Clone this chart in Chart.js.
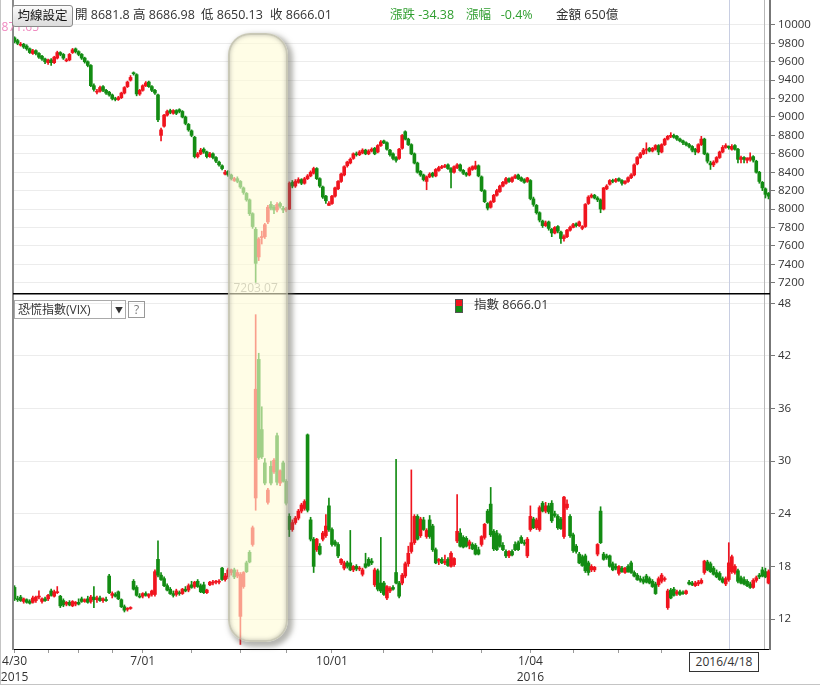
<!DOCTYPE html>
<html>
<head>
<meta charset="utf-8">
<script src="https://cdn.jsdelivr.net/npm/chart.js@4.4.1/dist/chart.umd.min.js"></script>
<style>
  html, body { margin: 0; padding: 0; background: #fff; }
  #wrap { position: relative; width: 820px; height: 686px; overflow: hidden;
          font-family: "Open Sans", "Noto Sans CJK TC", sans-serif; color: #333; }
  #wrap canvas { position: absolute; left: 0; }
  #top { top: 0; }
  #bot { top: 293px; }
  .abs { position: absolute; white-space: nowrap; }
  #btn { left: 12px; top: 5px; width: 59px; height: 20px; line-height: 20px; font-size: 12.5px;
         text-align: center; color: #111; border: 1px solid #8a8a8a; border-radius: 3px;
         background: linear-gradient(#fbfbfb, #dcdcdc); }
  .hd { top: 6px; font-size: 12.5px; line-height: 18px; }
  .up { color: #2f9e2f; }
  #sel { left: 14px; top: 300px; width: 110px; height: 17px; border: 1px solid #aaa; font-size: 12px; line-height: 17px; }
  #sel span { position: absolute; left: 3px; top: 0; }
  #sel i { position: absolute; left: 96px; top: 0; width: 14px; height: 17px; border-left: 1px solid #aaa;
           font-style: normal; font-size: 8px; text-align: center; line-height: 17px; }
  #q { left: 128px; top: 301px; width: 15px; height: 15px; border: 1px solid #999; font-size: 12px;
       line-height: 15px; text-align: center; color: #777; }
  #lg1 { left: 455px; top: 299px; width: 6px; height: 6px; background: #f0141e; border: 1px solid #555; border-bottom: 0; }
  #lg2 { left: 455px; top: 306px; width: 6px; height: 6px; background: #138c13; border: 1px solid #555; border-top: 0; }
  #lgt { left: 474px; top: 296px; font-size: 12.5px; line-height: 18px; }
  #date { left: 689px; top: 652px; width: 68px; height: 18px; border: 1px solid #333; background: #fff;
          font-size: 12px; line-height: 18px; text-align: center; }
  #hl { left: 228px; top: 33px; width: 56px; height: 605px; border-radius: 22px;
        background: rgba(255, 252, 214, 0.6); border: 2px solid rgba(165, 165, 150, 0.6);
        box-shadow: 3px 3px 5px 2px rgba(110, 110, 100, 0.5), inset 0 0 4px rgba(120, 120, 110, 0.45); }
  #frame { left: 0; top: 0; width: 819px; height: 684px; border-left: 1px solid #c4c4c4; border-bottom: 1px solid #c4c4c4; }
</style>
</head>
<body>
<div id="wrap">
  <canvas id="top" width="820" height="293"></canvas>
  <canvas id="bot" width="820" height="393"></canvas>
  <div id="frame" class="abs"></div>
  <div id="btn" class="abs">均線設定</div>
  <div class="abs hd" style="left:75px">開 8681.8</div>
  <div class="abs hd" style="left:133px">高 8686.98</div>
  <div class="abs hd" style="left:201px">低 8650.13</div>
  <div class="abs hd" style="left:270px">收 8666.01</div>
  <div class="abs hd up" style="left:390px">漲跌 -34.38</div>
  <div class="abs hd up" style="left:466px">漲幅&nbsp;&nbsp;&nbsp;-0.4%</div>
  <div class="abs hd" style="left:556px">金額 650億</div>
  <div id="sel" class="abs"><span>恐慌指數(VIX)</span><i>&#9660;</i></div>
  <div id="q" class="abs">?</div>
  <div id="lg1" class="abs"></div>
  <div id="lg2" class="abs"></div>
  <div id="lgt" class="abs">指數 8666.01</div>
  <div id="date" class="abs">2016/4/18</div>
  <div id="hl" class="abs"></div>
</div>
<script>
/* TAIEX daily candles, 2015/4/30 .. 2016/5 */
var twOpen = [
  9860, 9830, 9780, 9790, 9770, 9740, 9690, 9720, 9690, 9660,
  9630, 9590, 9620, 9590, 9640, 9700, 9680, 9610, 9620, 9700,
  9740, 9710, 9680, 9640, 9600, 9560, 9340, 9270, 9280, 9330,
  9290, 9270, 9240, 9200, 9190, 9210, 9260, 9330, 9400, 9480,
  9460, 9250, 9290, 9340, 9380, 9330, 9290, 9240, 8800, 8900,
  9020, 9070, 9040, 9070, 9080, 9060, 9000, 8920, 8850, 8780,
  8570, 8600, 8650, 8620, 8570, 8600, 8560, 8510, 8470, 8380,
  8410, 8370, 8310, 8330, 8300, 8230, 8170, 8100, 7950, 7780,
  7480, 7690, 7700, 7860, 8050, 8020, 7990, 8060, 8010, 7990,
  8000, 8290, 8250, 8290, 8320, 8280, 8330, 8360, 8390, 8440,
  8330, 8240, 8140, 8040, 8060, 8140, 8220, 8300, 8370, 8470,
  8500, 8550, 8600, 8590, 8610, 8640, 8600, 8630, 8660, 8620,
  8690, 8740, 8720, 8640, 8600, 8560, 8550, 8660, 8840, 8760,
  8700, 8600, 8500, 8410, 8370, 8300, 8350, 8390, 8360, 8420,
  8450, 8460, 8480, 8440, 8400, 8450, 8480, 8420, 8390, 8370,
  8430, 8440, 8470, 8350, 8200, 8060, 8020, 8080, 8150, 8190,
  8250, 8280, 8330, 8300, 8340, 8370, 8340, 8320, 8300, 8310,
  8110, 8040, 7960, 7870, 7820, 7860, 7780, 7740, 7810, 7750,
  7680, 7700, 7770, 7800, 7840, 7820, 7790, 7810, 8060, 8130,
  8150, 8120, 8100, 8000, 8220, 8270, 8310, 8300, 8330, 8310,
  8280, 8300, 8340, 8370, 8490, 8560, 8600, 8640, 8660, 8630,
  8650, 8690, 8620, 8700, 8760, 8790, 8800, 8790, 8760, 8740,
  8720, 8700, 8680, 8650, 8620, 8700, 8760, 8600, 8500, 8480,
  8510, 8560, 8620, 8670, 8681.8, 8650, 8690, 8650, 8540, 8560,
  8530, 8540, 8570, 8520, 8400, 8290, 8220, 8170
];
var twHigh = [
  9871.65, 9845, 9810, 9800, 9785, 9750, 9735, 9730, 9700, 9670,
  9640, 9630, 9635, 9660, 9715, 9710, 9690, 9635, 9690, 9745,
  9750, 9720, 9690, 9650, 9610, 9570, 9360, 9300, 9335, 9340,
  9300, 9280, 9250, 9215, 9225, 9270, 9330, 9390, 9450, 9490,
  9470, 9300, 9350, 9385, 9390, 9340, 9300, 9250, 8880, 9030,
  9075, 9085, 9080, 9080, 9090, 9070, 9010, 8930, 8860, 8790,
  8615, 8660, 8665, 8630, 8615, 8610, 8570, 8520, 8480, 8420,
  8420, 8380, 8345, 8350, 8310, 8240, 8180, 8110, 7960, 7800,
  7690, 7760, 7845, 8040, 8080, 8040, 8070, 8075, 8030, 8020,
  8295, 8310, 8320, 8340, 8330, 8345, 8375, 8415, 8455, 8450,
  8340, 8250, 8150, 8080, 8150, 8240, 8310, 8390, 8470, 8520,
  8555, 8610, 8620, 8635, 8655, 8650, 8645, 8665, 8670, 8700,
  8745, 8750, 8730, 8650, 8610, 8570, 8660, 8810, 8850, 8770,
  8710, 8610, 8510, 8420, 8380, 8360, 8395, 8400, 8440, 8465,
  8475, 8485, 8490, 8450, 8470, 8495, 8490, 8430, 8400, 8455,
  8470, 8520, 8480, 8360, 8210, 8070, 8090, 8160, 8215, 8260,
  8300, 8345, 8340, 8350, 8375, 8380, 8350, 8330, 8345, 8320,
  8130, 8050, 7970, 7880, 7870, 7870, 7790, 7810, 7820, 7760,
  7720, 7780, 7815, 7845, 7850, 7870, 7820, 8060, 8145, 8165,
  8160, 8135, 8110, 8235, 8265, 8320, 8325, 8335, 8340, 8320,
  8310, 8350, 8385, 8490, 8570, 8615, 8660, 8720, 8670, 8670,
  8700, 8700, 8710, 8770, 8800, 8830, 8815, 8800, 8770, 8750,
  8730, 8715, 8690, 8660, 8710, 8790, 8770, 8610, 8520, 8525,
  8570, 8630, 8690, 8710, 8686.98, 8700, 8700, 8660, 8575, 8570,
  8560, 8610, 8580, 8530, 8410, 8300, 8230, 8180
];
var twLow = [
  9805, 9785, 9770, 9745, 9725, 9690, 9680, 9675, 9635, 9615,
  9580, 9570, 9560, 9580, 9630, 9665, 9625, 9600, 9610, 9690,
  9695, 9665, 9625, 9585, 9545, 9330, 9280, 9250, 9270, 9275,
  9245, 9225, 9185, 9175, 9180, 9200, 9250, 9320, 9390, 9455,
  9230, 9235, 9280, 9330, 9320, 9275, 9245, 8950, 8740, 8890,
  9010, 9035, 9030, 9025, 9045, 8990, 8915, 8845, 8785, 8555,
  8555, 8590, 8605, 8555, 8560, 8545, 8505, 8465, 8425, 8370,
  8355, 8315, 8300, 8285, 8225, 8160, 8085, 7930, 7790, 7203.07,
  7440, 7620, 7680, 7840, 7990, 7950, 7970, 8010, 7960, 7970,
  7995, 8230, 8235, 8280, 8265, 8270, 8320, 8350, 8380, 8320,
  8235, 8115, 8060, 8040, 8050, 8130, 8210, 8290, 8360, 8455,
  8490, 8540, 8575, 8580, 8600, 8590, 8590, 8620, 8590, 8610,
  8680, 8710, 8640, 8575, 8535, 8510, 8540, 8650, 8750, 8690,
  8590, 8490, 8390, 8355, 8305, 8210, 8340, 8345, 8350, 8410,
  8440, 8450, 8430, 8230, 8390, 8440, 8410, 8375, 8355, 8360,
  8420, 8430, 8350, 8190, 8070, 7990, 8010, 8070, 8140, 8180,
  8240, 8270, 8290, 8290, 8330, 8320, 8300, 8280, 8290, 8100,
  8030, 7945, 7860, 7800, 7810, 7770, 7700, 7730, 7740, 7627,
  7650, 7690, 7760, 7795, 7805, 7810, 7775, 7800, 8050, 8120,
  8110, 8080, 7960, 7990, 8210, 8260, 8285, 8290, 8300, 8260,
  8270, 8290, 8330, 8360, 8480, 8550, 8590, 8600, 8620, 8620,
  8640, 8590, 8610, 8690, 8750, 8775, 8770, 8745, 8730, 8700,
  8685, 8665, 8620, 8590, 8610, 8690, 8590, 8500, 8430, 8460,
  8500, 8550, 8610, 8660, 8650.13, 8640, 8640, 8500, 8500, 8500,
  8500, 8520, 8510, 8390, 8280, 8200, 8120, 8110
];
var twClose = [
  9820, 9800, 9790, 9760, 9740, 9700, 9720, 9690, 9650, 9630,
  9600, 9620, 9590, 9650, 9700, 9680, 9640, 9620, 9680, 9730,
  9710, 9680, 9640, 9600, 9560, 9340, 9300, 9280, 9320, 9290,
  9260, 9240, 9200, 9190, 9210, 9260, 9320, 9380, 9430, 9470,
  9250, 9290, 9340, 9370, 9330, 9290, 9260, 8970, 8860, 9020,
  9060, 9050, 9070, 9040, 9060, 9000, 8930, 8860, 8800, 8570,
  8600, 8640, 8620, 8570, 8600, 8560, 8520, 8480, 8440, 8400,
  8370, 8330, 8330, 8300, 8240, 8180, 8100, 7950, 7810, 7410,
  7675, 7700, 7830, 8020, 8010, 7990, 8050, 8030, 7990, 8000,
  8280, 8250, 8300, 8320, 8280, 8330, 8360, 8400, 8440, 8330,
  8250, 8130, 8090, 8060, 8140, 8230, 8300, 8380, 8460, 8510,
  8540, 8600, 8590, 8620, 8640, 8600, 8630, 8650, 8600, 8690,
  8730, 8720, 8650, 8590, 8550, 8530, 8650, 8800, 8760, 8700,
  8600, 8500, 8400, 8370, 8320, 8350, 8380, 8360, 8430, 8450,
  8460, 8470, 8440, 8400, 8460, 8480, 8420, 8390, 8370, 8440,
  8460, 8470, 8360, 8200, 8080, 8010, 8080, 8150, 8200, 8250,
  8290, 8330, 8300, 8340, 8360, 8330, 8310, 8290, 8338, 8114,
  8050, 7960, 7880, 7820, 7850, 7790, 7740, 7800, 7760, 7680,
  7700, 7770, 7800, 7830, 7820, 7860, 7810, 8050, 8130, 8150,
  8120, 8100, 8000, 8230, 8250, 8310, 8300, 8320, 8310, 8280,
  8300, 8340, 8370, 8480, 8560, 8600, 8640, 8650, 8630, 8660,
  8690, 8620, 8700, 8760, 8790, 8800, 8780, 8760, 8740, 8720,
  8700, 8680, 8640, 8620, 8700, 8760, 8600, 8520, 8480, 8510,
  8560, 8620, 8670, 8690, 8666.01, 8680, 8650, 8540, 8560, 8540,
  8550, 8560, 8530, 8400, 8300, 8230, 8160, 8140
];

/* Taiwan VIX daily candles, same days */
var vixOpen = [
  15.6, 14.3, 14.5, 14.0, 14.2, 14.0, 13.9, 14.1, 14.5, 14.0,
  14.3, 14.3, 15.2, 14.6, 15.0, 14.6, 14.1, 13.7, 13.9, 13.5,
  13.7, 13.9, 14.3, 14.0, 14.3, 14.0, 14.5, 14.2, 14.4, 14.1,
  14.2, 16.9, 14.7, 14.8, 15.1, 14.2, 13.4, 13.1, 13.2, 16.3,
  15.6, 14.6, 14.6, 14.9, 14.6, 14.8, 14.8, 18.8, 17.0, 16.6,
  15.8, 15.4, 14.9, 14.8, 15.0, 14.9, 15.4, 15.3, 15.9, 15.7,
  16.3, 15.8, 15.9, 15.0, 15.9, 16.1, 16.2, 16.2, 17.8, 16.5,
  16.8, 17.3, 17.6, 16.9, 12.3, 15.7, 18.4, 19.6, 20.5, 25.8,
  41.6, 33.6, 29.8, 25.3, 29.4, 28.8, 32.9, 27.5, 29.8, 27.7,
  23.7, 22.2, 23.0, 23.5, 24.3, 24.6, 33.0, 23.3, 21.1, 19.9,
  20.3, 21.1, 21.5, 24.9, 22.2, 20.8, 20.5, 18.4, 17.8, 18.4,
  18.4, 17.6, 18.0, 17.7, 17.1, 18.3, 18.8, 18.6, 15.9, 17.5,
  16.1, 16.1, 14.4, 15.2, 15.6, 17.3, 16.1, 16.1, 16.9, 18.3,
  19.7, 20.7, 23.7, 21.5, 23.3, 21.4, 23.3, 22.6, 19.9, 18.6,
  18.8, 18.4, 18.8, 18.0, 18.2, 20.9, 21.8, 21.3, 21.2, 20.4,
  20.5, 20.4, 19.9, 20.5, 21.3, 24.3, 25.1, 22.0, 21.8, 21.5,
  20.4, 19.7, 19.2, 19.7, 20.5, 20.7, 21.3, 20.7, 19.2, 22.2,
  23.4, 22.4, 22.2, 25.2, 24.3, 24.9, 25.2, 24.0, 23.7, 23.4,
  21.4, 24.7, 23.7, 21.6, 20.3, 19.4, 19.1, 19.2, 18.4, 17.6,
  17.6, 19.4, 24.3, 19.4, 19.2, 19.2, 18.3, 18.0, 17.2, 17.8,
  17.3, 18.0, 18.4, 17.3, 17.0, 16.6, 16.5, 16.9, 16.6, 16.3,
  16.0, 15.9, 16.3, 16.5, 13.3, 15.3, 15.4, 14.9, 15.1, 15.0,
  14.9, 16.2, 16.1, 15.8, 16.0, 16.1, 17.3, 18.5, 18.3, 17.8,
  17.3, 17.2, 16.6, 16.0, 16.5, 17.4, 17.3, 17.5, 16.7, 16.5,
  16.3, 16.0, 15.6, 16.4, 17.0, 17.6, 17.4, 16.1
];
var vixHigh = [
  15.8, 14.6, 14.7, 14.4, 14.3, 14.2, 14.6, 14.6, 15.2, 14.4,
  14.5, 14.8, 15.4, 15.3, 15.7, 14.7, 14.3, 14.0, 14.1, 14.1,
  14.0, 14.3, 14.5, 14.3, 14.6, 14.7, 15.7, 14.6, 14.6, 14.4,
  14.5, 17.1, 15.1, 15.0, 15.2, 14.3, 13.6, 13.3, 13.4, 16.5,
  15.8, 14.9, 15.0, 15.1, 14.9, 15.3, 17.6, 20.9, 17.3, 16.8,
  16.0, 15.6, 15.2, 15.4, 15.2, 15.5, 15.7, 16.0, 16.3, 16.3,
  16.5, 16.0, 16.2, 15.4, 16.3, 16.4, 16.4, 16.5, 17.9, 17.2,
  17.8, 17.7, 17.8, 17.6, 17.3, 17.4, 18.6, 19.8, 22.6, 46.7,
  42.3, 36.2, 30.3, 26.9, 30.0, 30.3, 33.2, 29.0, 30.0, 27.9,
  24.0, 23.3, 23.7, 24.5, 25.2, 25.6, 33.1, 23.6, 21.3, 21.2,
  20.6, 22.0, 23.9, 25.8, 22.4, 21.0, 20.7, 18.9, 18.6, 18.6,
  22.1, 18.1, 18.2, 18.0, 17.8, 19.5, 19.0, 18.9, 17.8, 17.7,
  21.3, 16.3, 15.8, 15.7, 15.8, 30.2, 16.3, 17.2, 18.5, 20.3,
  29.0, 23.9, 23.9, 23.6, 23.6, 22.3, 23.8, 22.8, 20.1, 18.9,
  19.0, 19.3, 19.0, 19.7, 19.0, 26.2, 22.3, 21.5, 21.4, 21.0,
  20.7, 20.6, 20.2, 21.5, 22.9, 24.5, 27.0, 22.2, 22.1, 21.7,
  20.7, 19.9, 19.8, 19.9, 20.8, 20.9, 21.5, 21.0, 21.3, 24.9,
  23.6, 23.5, 24.9, 25.4, 25.3, 25.2, 25.5, 24.3, 23.9, 23.6,
  26.0, 25.6, 23.9, 21.8, 20.5, 19.6, 19.3, 19.4, 18.6, 18.2,
  18.0, 20.6, 24.8, 19.6, 19.4, 19.3, 18.5, 18.3, 18.1, 18.0,
  17.9, 18.2, 18.6, 17.5, 17.2, 16.9, 16.8, 17.1, 16.8, 16.5,
  16.2, 16.8, 17.2, 16.8, 15.4, 15.5, 15.6, 15.3, 15.3, 15.2,
  15.3, 16.4, 16.3, 16.3, 16.4, 16.6, 18.7, 18.7, 18.5, 18.0,
  17.6, 17.4, 16.8, 16.8, 20.7, 19.3, 18.2, 17.7, 16.9, 16.8,
  16.5, 16.2, 16.6, 16.9, 17.2, 17.9, 17.8, 17.6
];
var vixLow = [
  14.1, 14.0, 14.0, 13.8, 13.8, 13.7, 13.8, 13.9, 14.3, 13.8,
  14.0, 14.1, 14.6, 14.5, 14.9, 13.3, 13.4, 13.5, 13.5, 13.4,
  13.5, 13.6, 13.9, 13.9, 13.8, 13.8, 13.3, 13.9, 14.0, 13.9,
  14.0, 14.9, 14.4, 14.5, 14.2, 13.3, 12.8, 12.9, 13.1, 15.3,
  14.6, 14.4, 14.4, 14.6, 14.4, 14.6, 14.6, 16.8, 16.4, 15.7,
  15.2, 14.8, 14.5, 14.6, 14.7, 14.8, 15.1, 15.1, 15.5, 15.5,
  15.6, 15.0, 14.9, 14.9, 15.8, 15.9, 16.0, 16.0, 16.4, 16.3,
  16.6, 17.0, 16.6, 16.7, 9.1, 15.5, 17.3, 18.4, 20.3, 24.4,
  30.2, 30.3, 27.3, 25.1, 27.3, 28.6, 27.3, 27.2, 27.6, 25.0,
  21.4, 22.0, 22.8, 23.3, 24.1, 24.4, 24.2, 20.9, 17.3, 19.7,
  19.3, 20.9, 21.3, 22.0, 20.3, 20.3, 19.0, 18.2, 17.6, 17.8,
  17.5, 17.4, 17.5, 17.5, 16.9, 17.8, 18.0, 18.2, 15.7, 15.2,
  15.0, 14.7, 14.2, 15.0, 15.3, 16.0, 14.4, 15.9, 16.7, 18.0,
  19.5, 20.5, 21.0, 21.3, 22.1, 21.2, 21.2, 19.7, 18.3, 18.2,
  18.3, 18.2, 18.0, 17.9, 18.0, 20.7, 20.2, 20.1, 20.2, 20.0,
  19.9, 19.3, 19.3, 20.3, 21.1, 22.9, 21.4, 19.8, 19.8, 20.2,
  19.8, 19.0, 19.0, 19.2, 19.8, 19.8, 20.6, 20.4, 19.0, 22.0,
  22.3, 22.2, 22.0, 24.2, 24.1, 24.0, 23.0, 23.6, 22.2, 22.2,
  21.2, 24.5, 21.3, 19.6, 19.5, 18.3, 18.0, 17.3, 17.0, 17.4,
  17.4, 19.2, 20.6, 18.7, 18.8, 17.9, 17.5, 17.6, 17.0, 17.3,
  17.2, 17.3, 17.2, 16.8, 16.4, 16.2, 16.0, 16.1, 16.0, 15.6,
  14.8, 15.7, 16.1, 16.3, 13.1, 14.3, 14.6, 14.7, 14.7, 14.8,
  14.8, 15.9, 15.8, 15.7, 15.8, 16.0, 17.1, 17.5, 17.3, 17.0,
  16.7, 16.4, 16.1, 15.8, 16.3, 17.2, 17.1, 16.1, 16.0, 15.9,
  15.7, 15.5, 15.5, 16.2, 16.6, 16.8, 16.7, 16.0
];
var vixClose = [
  14.3, 14.2, 14.1, 14.3, 13.9, 13.8, 14.4, 14.5, 14.6, 14.3,
  14.1, 14.7, 14.7, 15.1, 15.1, 13.5, 13.6, 13.9, 13.6, 14.0,
  13.9, 13.7, 14.0, 14.2, 13.9, 14.5, 14.2, 14.4, 14.1, 14.3,
  14.1, 15.0, 14.9, 14.6, 14.3, 13.4, 13.0, 13.2, 13.3, 15.4,
  14.7, 14.5, 14.9, 14.7, 14.8, 15.2, 17.4, 17.0, 16.5, 15.8,
  15.3, 14.9, 14.7, 15.2, 14.9, 15.4, 15.2, 15.8, 15.6, 16.2,
  15.7, 15.1, 15.0, 15.3, 16.2, 16.2, 16.3, 16.3, 16.5, 16.9,
  17.6, 17.6, 16.8, 17.3, 17.1, 17.3, 17.4, 18.5, 22.4, 38.2,
  30.4, 30.5, 27.5, 26.7, 27.5, 30.1, 27.6, 28.9, 27.7, 25.2,
  22.2, 23.0, 23.5, 24.3, 25.0, 25.4, 24.4, 21.1, 18.0, 21.1,
  19.4, 21.8, 22.6, 22.2, 20.5, 20.5, 19.2, 18.8, 18.4, 18.0,
  17.6, 18.0, 17.7, 17.8, 17.6, 17.9, 18.1, 18.4, 17.6, 15.4,
  15.2, 14.8, 15.7, 15.5, 15.4, 16.1, 14.6, 17.0, 18.3, 19.5,
  20.7, 23.7, 21.1, 23.4, 22.2, 22.1, 21.4, 19.9, 18.4, 18.8,
  18.4, 18.6, 18.1, 19.5, 18.9, 22.0, 20.3, 20.2, 20.3, 20.8,
  20.0, 19.4, 19.4, 21.4, 22.8, 23.0, 21.6, 20.0, 19.9, 20.3,
  19.9, 19.2, 19.7, 19.3, 19.9, 19.9, 20.7, 20.6, 21.1, 23.7,
  22.4, 23.3, 24.7, 24.3, 24.9, 24.2, 23.2, 23.8, 22.4, 22.3,
  25.9, 25.1, 21.5, 19.8, 19.7, 18.4, 18.1, 17.5, 17.3, 18.0,
  17.9, 20.5, 20.7, 18.8, 19.0, 18.0, 17.6, 17.8, 18.0, 17.4,
  17.8, 17.4, 17.3, 16.9, 16.5, 16.4, 16.2, 16.2, 16.1, 15.7,
  14.9, 16.6, 17.0, 16.6, 15.2, 14.4, 14.7, 15.1, 14.8, 14.9,
  15.2, 16.0, 15.9, 16.1, 16.2, 16.4, 18.6, 17.6, 17.4, 17.1,
  16.8, 16.5, 16.2, 16.6, 18.4, 19.1, 18.0, 16.3, 16.1, 16.0,
  15.8, 15.6, 16.4, 16.7, 16.8, 16.9, 16.8, 17.4
];

// axis ticks
var twTicks = [7200, 7400, 7600, 7800, 8000, 8200, 8400, 8600, 8800, 9000, 9200, 9400, 9600, 9800, 10000];
var vixTicks = [12, 18, 24, 30, 36, 42, 48];
var dateTickIdx = [0, 42, 104, 169];
var dateTickText = [['4/30', '2015'], '7/01', '10/01', ['1/04', '2016']];
var minorTickIdx = [0, 11, 21, 32, 42, 58, 74, 89, 104, 121, 137, 153, 169, 183, 198, 212];
var crossIdx = 234;   // 2016/4/18
var maxIdx = 0, minIdx = 79;

var RED = '#f0141e';
var GREEN = '#138c13';
var FONT = '"Open Sans", "Noto Sans CJK TC", sans-serif';

function candleColors(o, c) {
  return o.map(function (v, i) { return c[i] >= v ? RED : GREEN; });
}
function pairs(a, b) {
  return a.map(function (v, i) { return [v, b[i]]; });
}

// frame lines, crosshair and panel decorations
var panelLines = {
  id: 'panelLines',
  beforeDatasetsDraw: function (chart) {
    var ctx = chart.ctx, a = chart.chartArea;
    var x = Math.round(chart.scales.x.getPixelForValue(crossIdx)) + 0.5;
    ctx.save();
    ctx.strokeStyle = '#c8cee2';
    ctx.lineWidth = 1;
    ctx.beginPath(); ctx.moveTo(x, a.top); ctx.lineTo(x, a.bottom); ctx.stroke();
    ctx.strokeStyle = '#b8b8b8';
    ctx.beginPath(); ctx.moveTo(a.right - 5.5, a.top); ctx.lineTo(a.right - 5.5, a.bottom); ctx.stroke();
    ctx.restore();
  },
  afterDraw: function (chart) {
    var ctx = chart.ctx, a = chart.chartArea;
    ctx.save();
    ctx.fillStyle = '#8a8a8a';
    ctx.fillRect(a.left - 1, a.top, 2, a.bottom - a.top + 1);
    if (chart.canvas.id === 'bot') {
      ctx.fillStyle = '#000';
      ctx.fillRect(a.left, 0, a.right - a.left, 1.5);
    }
    ctx.restore();
  }
};

var extremes = {
  id: 'extremes',
  afterDraw: function (chart) {
    var ctx = chart.ctx;
    ctx.save();
    ctx.font = '12px ' + FONT;
    ctx.textBaseline = 'middle';
    ctx.textAlign = 'right';
    ctx.fillStyle = '#f08ac0';
    ctx.fillText(twHigh[maxIdx].toFixed(2), 39, 28);
    ctx.textAlign = 'center';
    ctx.fillStyle = '#9a9a9a';
    ctx.fillText(twLow[minIdx].toFixed(2), chart.scales.x.getPixelForValue(minIdx), 289);
    ctx.restore();
  }
};

function candleChart(id, o, h, l, c, yMin, yMax, yTicks, showX, plugins) {
  var cols = candleColors(o, c);
  var labels = o.map(function (v, i) { return i; });
  return new Chart(document.getElementById(id), {
    type: 'bar',
    data: {
      labels: labels,
      datasets: [
        { data: pairs(o, c), backgroundColor: cols, barThickness: 3, minBarLength: 1,
          grouped: false, order: 1 },
        { data: pairs(l, h), backgroundColor: cols, barThickness: 1,
          grouped: false, order: 2 }
      ]
    },
    options: {
      responsive: false,
      animation: false,
      layout: { padding: { left: 13, right: 0, top: 0, bottom: 0 } },
      plugins: { legend: { display: false }, tooltip: { enabled: false } },
      scales: {
        x: {
          type: 'category',
          offset: true,
          display: showX,
          border: { color: '#000', width: 1 },
          grid: {
            drawOnChartArea: false, drawTicks: true, tickLength: 4, offset: false,
            color: function (ctx) { return minorTickIdx.indexOf(ctx.index) >= 0 ? '#9a9a9a' : 'rgba(0,0,0,0)'; }
          },
          ticks: {
            autoSkip: false, maxRotation: 0, minRotation: 0, padding: 1,
            color: '#333', font: { size: 12, family: FONT, lineHeight: 1.3 },
            callback: function (v, i) {
              var k = dateTickIdx.indexOf(i);
              return k >= 0 ? dateTickText[k] : '';
            }
          },
          afterFit: function (s) {
            s.height = showX ? 37 : 0;
            s.paddingLeft = 0; s.paddingRight = 0;
          }
        },
        y: {
          position: 'right',
          min: yMin,
          max: yMax,
          border: { color: '#777', width: 2 },
          grid: { color: '#ececec', tickColor: '#777', tickLength: 5 },
          ticks: { color: '#333', padding: 3, font: { size: 11.5, family: FONT },
                   callback: function (v) { return String(v); } },
          afterBuildTicks: function (s) { s.ticks = yTicks.map(function (v) { return { value: v }; }); },
          afterFit: function (s) {
            s.width = 50;
            s.paddingTop = 0; s.paddingBottom = 0;
          }
        }
      }
    },
    plugins: plugins
  });
}

candleChart('top', twOpen, twHigh, twLow, twClose, 7088, 10271, twTicks, false, [panelLines, extremes]);
candleChart('bot', vixOpen, vixHigh, vixLow, vixClose, 8.58, 49.17, vixTicks, true, [panelLines]);
</script>
</body>
</html>
